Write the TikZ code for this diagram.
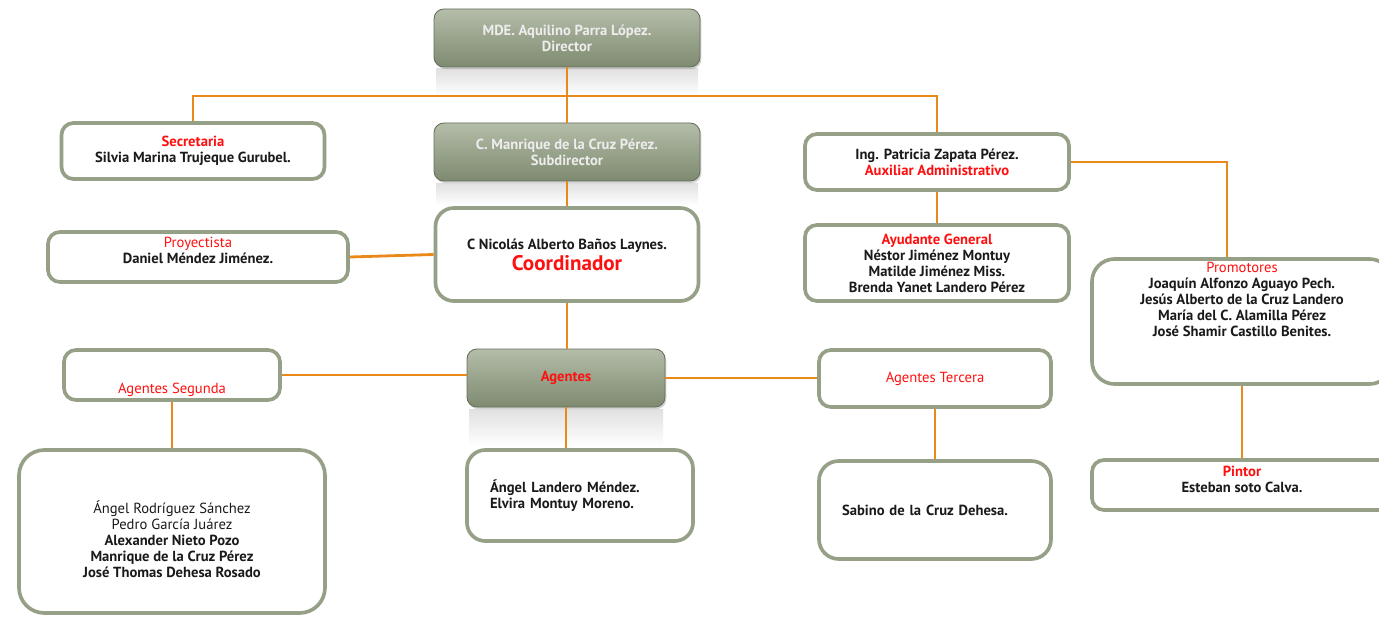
\documentclass[tikz,border=0pt]{standalone}
\usepackage{fontspec}
\setmainfont{PT Sans}
\usetikzlibrary{positioning, shadows}
\definecolor{frame}{HTML}{96A087}
\definecolor{link}{HTML}{E8891A}
\definecolor{rojo}{HTML}{FF1010}
\definecolor{gtop}{HTML}{B4BDA8}
\definecolor{gbot}{HTML}{7E8A70}
\definecolor{ink}{HTML}{1A1A1A}
\newcommand{\pxu}{0.025cm}

\begin{document}
\begin{tikzpicture}[x=\pxu, y=-\pxu,
     wbox/.style = {rectangle, draw=frame, line width=2.6pt, fill=white, rounded corners=8.5pt,
                    align=center, text=ink, font=\bfseries\fontsize{10.4}{11.4}\selectfont},
     bigbox/.style = {wbox, rounded corners=16pt},
     gbox/.style = {rectangle, draw=gbot!80!black, line width=0.6pt, rounded corners=7pt,
                    top color=gtop, bottom color=gbot, align=center, text=white!93!black,
                    font=\bfseries\fontsize{10.4}{11.4}\selectfont,
                    drop shadow={shadow xshift=1pt, shadow yshift=-1.5pt, opacity=.35}},
     txt/.style = {align=center, text=ink, font=\bfseries\fontsize{10.4}{11.4}\selectfont},
     link/.style = {draw=link, line width=2pt},
     mirror/.style = {top color=black!12, bottom color=white, draw=none}
                    ]
\useasboundingbox (0,0) rectangle (1379,617);
% faint reflections under the green boxes
\shade[mirror] (436,69) rectangle (698,96);
\shade[mirror] (436,183) rectangle (698,205);
\shade[mirror] (469,409) rectangle (663,446);
% boxes
\node (dir)    [gbox, minimum width=266*\pxu, minimum height=58*\pxu] at (567,38) {MDE. Aquilino Parra López.\\Director};
\node (subdir) [gbox, minimum width=266*\pxu, minimum height=58*\pxu] at (567,152) {C. Manrique de la Cruz Pérez.\\Subdirector};
\node (secre)  [wbox, minimum width=263*\pxu, minimum height=56*\pxu] at (193,151) {{\color{rojo}Secretaria}\\Silvia Marina Trujeque Gurubel.};
\node (aux)    [wbox, minimum width=264*\pxu, minimum height=56*\pxu] at (937,162) {Ing. Patricia Zapata Pérez.\\{\color{rojo}Auxiliar Administrativo}};
\node (proy)   [wbox, minimum width=300*\pxu, minimum height=50*\pxu] at (198,257) {};
\node (proytxt) [txt] at ([yshift=7*\pxu]proy.center) {{\mdseries\color{rojo}Proyectista}\\Daniel Méndez Jiménez.};
\node (coord)  [bigbox, rounded corners=13pt, minimum width=263*\pxu, minimum height=93*\pxu] at (567,254.5)
      {C Nicolás Alberto Baños Laynes.\\[1pt]{\color{rojo}\fontsize{15}{17}\selectfont Coordinador}};
\node (ayud)   [wbox, minimum width=264*\pxu, minimum height=76*\pxu] at (937,263)
      {{\color{rojo}Ayudante General}\\Néstor Jiménez Montuy\\Matilde Jiménez Miss.\\Brenda Yanet Landero Pérez};
\node (promo)  [bigbox, minimum width=300*\pxu, minimum height=125*\pxu] at (1242,321.5) {};
\node (promotxt) [txt, below=0pt of promo.north]
      {{\mdseries\color{rojo}Promotores}\\Joaquín Alfonzo Aguayo Pech.\\Jesús Alberto de la Cruz Landero\\María del C. Alamilla Pérez\\José Shamir Castillo Benites.};
\node (agentes) [gbox, minimum width=198*\pxu, minimum height=58*\pxu] at (566,378) {\color{rojo}Agentes};
\node (seg)    [wbox, minimum width=216*\pxu, minimum height=50*\pxu] at (172,375) {};
\node (segtxt) [txt, above=0pt of seg.south] {\mdseries\color{rojo}Agentes Segunda};
\node (terc)   [wbox, minimum width=232*\pxu, minimum height=57*\pxu] at (935,378.5) {{\mdseries\color{rojo}Agentes Tercera}};
\node (pintor) [wbox, minimum width=300*\pxu, minimum height=50*\pxu] at (1242,485) {};
\node (pintortxt) [txt] at ([yshift=6*\pxu]pintor.center) {{\color{rojo}Pintor}\\Esteban soto Calva.};
\node (bl)     [bigbox, rounded corners=18pt, minimum width=306*\pxu, minimum height=163*\pxu] at (172,531.5) {};
\node (bltxt)  [txt] at ([yshift=-8*\pxu]bl.center)
      {{\mdseries Ángel Rodríguez Sánchez}\\{\mdseries Pedro García Juárez}\\Alexander Nieto Pozo\\Manrique de la Cruz Pérez\\José Thomas Dehesa Rosado};
\node (land)   [bigbox, rounded corners=13pt, align=left, text width=180*\pxu, inner xsep=23*\pxu,
                minimum width=222*\pxu, minimum height=91*\pxu] at (580,495.5) {Ángel Landero Méndez.\\Elvira Montuy Moreno.};
\node (sabino) [bigbox, rounded corners=14pt, align=left, text width=186*\pxu, inner xsep=23*\pxu,
                minimum width=232*\pxu, minimum height=98*\pxu] at (935,510) {Sabino de la Cruz Dehesa.};
% connectors
\coordinate (bus) at (567,96);
\draw[link] (dir.south) -- (subdir.north);
\draw[link] (secre.north) |- (bus) -| (aux.north);
\draw[link] (subdir.south) -- (coord.north);
\draw[link] (proy.east) -- (coord.west);
\draw[link] (coord.south) -- (coord.south |- agentes.north);
\draw[link] (seg.east) -- (seg.east -| agentes.west);
\draw[link] (agentes.east) -- (agentes.east -| terc.west);
\draw[link] (agentes.south) -- (agentes.south |- land.north);
\draw[link] (seg.south) -- (bl.north);
\draw[link] (terc.south) -- (sabino.north);
\draw[link] (aux.south) -- (ayud.north);
\draw[link] (aux.east) -| ([xshift=-15*\pxu]promo.north);
\draw[link] (promo.south) -- (pintor.north);
\end{tikzpicture}
\end{document}
